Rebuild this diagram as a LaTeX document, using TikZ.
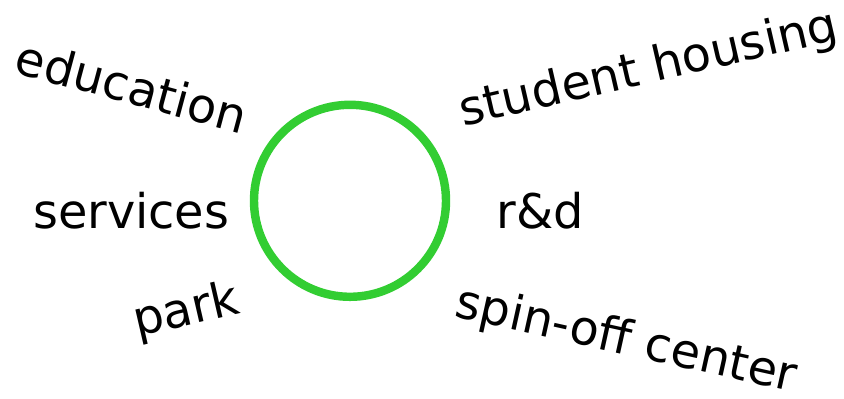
\documentclass[tikz,border=0pt]{standalone}
\usepackage{fontspec}
\setmainfont{DejaVu Sans}
\usetikzlibrary{positioning}

\begin{document}
\begin{tikzpicture}[font=\fontsize{34}{40}\selectfont,
  lbl/.style={inner sep=0pt}]
  \useasboundingbox (0,0) rectangle (21.1,9.95);
  \node[circle,draw={rgb,255:red,50;green,205;blue,50},line width=6pt,
    minimum size=4.8cm] (hub) at (8.75,4.93) {};
  \node[lbl,rotate=-15] (edu) at (3.3,7.8) {education};
  \node[lbl,rotate=13] (housing) at (16.22,8.2) {student housing};
  \node[lbl,anchor=base] (serv) at (3.28,4.25) {services};
  \node[lbl,anchor=base] (rd) at (13.5,4.25) {r\&d};
  \node[lbl,rotate=13] (park) at (4.66,2.15) {park};
  \node[lbl,rotate=-12.5] (spin) at (15.65,1.42) {spin-off center};
\end{tikzpicture}
\end{document}
